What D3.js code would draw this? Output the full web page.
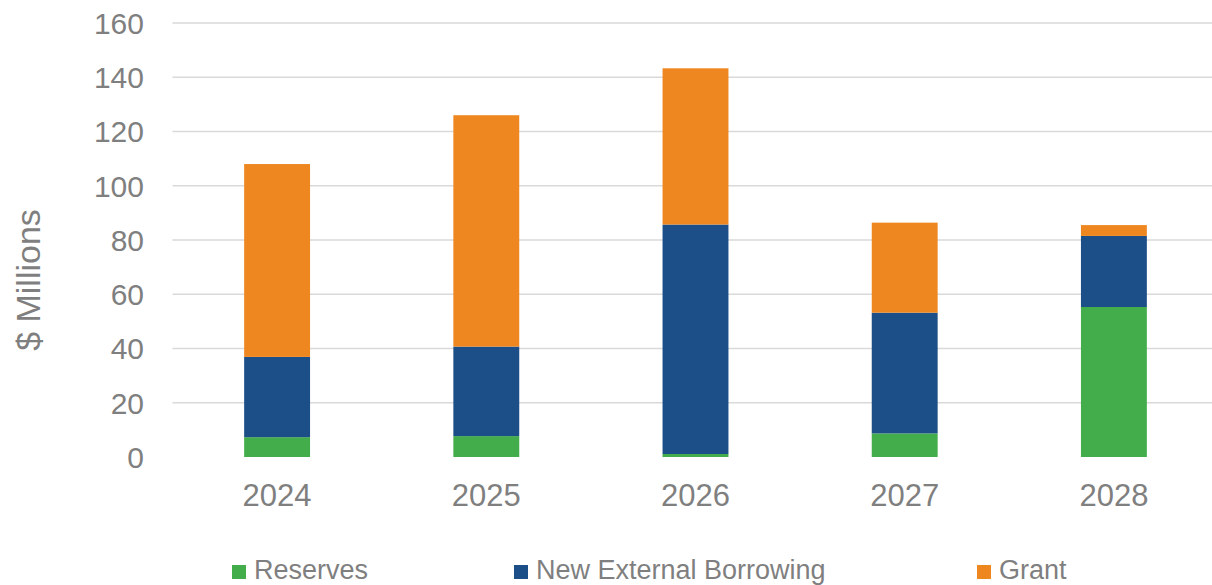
<!DOCTYPE html>
<html>
<head>
<meta charset="utf-8">
<script src="https://cdn.jsdelivr.net/npm/d3@7"></script>
<style>
  html, body { margin: 0; padding: 0; background: #fff; }
  svg { display: block; font-family: "Liberation Sans", Arial, sans-serif; }
</style>
</head>
<body>
<svg id="chart" width="1212" height="585"></svg>
<script>
const years = ["2024", "2025", "2026", "2027", "2028"];
const reserves = [7.3, 7.7, 1.1, 8.7, 55.3];
const borrowing = [29.6, 33.0, 84.6, 44.5, 26.2];
const grant = [71.1, 85.3, 57.6, 33.2, 4.0];
const yTicks = [0, 20, 40, 60, 80, 100, 120, 140, 160];
const seriesNames = ["Reserves", "New External Borrowing", "Grant"];
const seriesColors = ["#42ad4a", "#1c4e88", "#ee8720"];

const W = 1212, H = 585;
const svg = d3.select("#chart");

const x = d3.scaleBand().domain(years).range([172.5, 1218.5]).paddingInner(0.685).paddingOuter(0.3425);
const y = d3.scaleLinear().domain([0, 160]).range([457, 23]);

const rows = years.map((yr, i) => ({ year: yr, Reserves: reserves[i], "New External Borrowing": borrowing[i], Grant: grant[i] }));
const stack = d3.stack().keys(seriesNames)(rows);
const color = d3.scaleOrdinal().domain(seriesNames).range(seriesColors);

// gridlines
svg.append("g").selectAll("line").data(yTicks.filter(t => t > 0)).join("line")
  .attr("x1", 172.5).attr("x2", W)
  .attr("y1", d => y(d)).attr("y2", d => y(d))
  .attr("stroke", "#d9d9d9").attr("stroke-width", 1.5);

// y tick labels
svg.append("g").selectAll("text").data(yTicks).join("text")
  .attr("x", 144).attr("y", d => y(d)).attr("dy", "0.36em")
  .attr("text-anchor", "end").attr("fill", "#7f7f7f").attr("font-size", 30)
  .text(d => d);

// bars
svg.append("g").selectAll("g").data(stack).join("g")
  .attr("fill", d => color(d.key))
  .selectAll("rect").data(d => d).join("rect")
  .attr("x", d => x(d.data.year))
  .attr("width", x.bandwidth())
  .attr("y", d => y(d[1]))
  .attr("height", d => y(d[0]) - y(d[1]));

// x labels
svg.append("g").selectAll("text").data(years).join("text")
  .attr("x", d => x(d) + x.bandwidth() / 2).attr("y", 506)
  .attr("text-anchor", "middle").attr("fill", "#7f7f7f").attr("font-size", 31)
  .text(d => d);

// y title
svg.append("text")
  .attr("transform", "translate(40,280) rotate(-90)")
  .attr("text-anchor", "middle").attr("fill", "#7f7f7f").attr("font-size", 34)
  .text("$ Millions");

// legend
const legendX = [232, 514, 977];
const lg = svg.append("g").selectAll("g").data(seriesNames).join("g")
  .attr("transform", (d, i) => `translate(${legendX[i]},0)`);
lg.append("rect").attr("x", 0).attr("y", 565).attr("width", 14).attr("height", 14)
  .attr("fill", d => color(d));
lg.append("text").attr("x", 22).attr("y", 579)
  .attr("fill", "#7f7f7f").attr("font-size", 27)
  .text(d => d);
</script>
</body>
</html>
